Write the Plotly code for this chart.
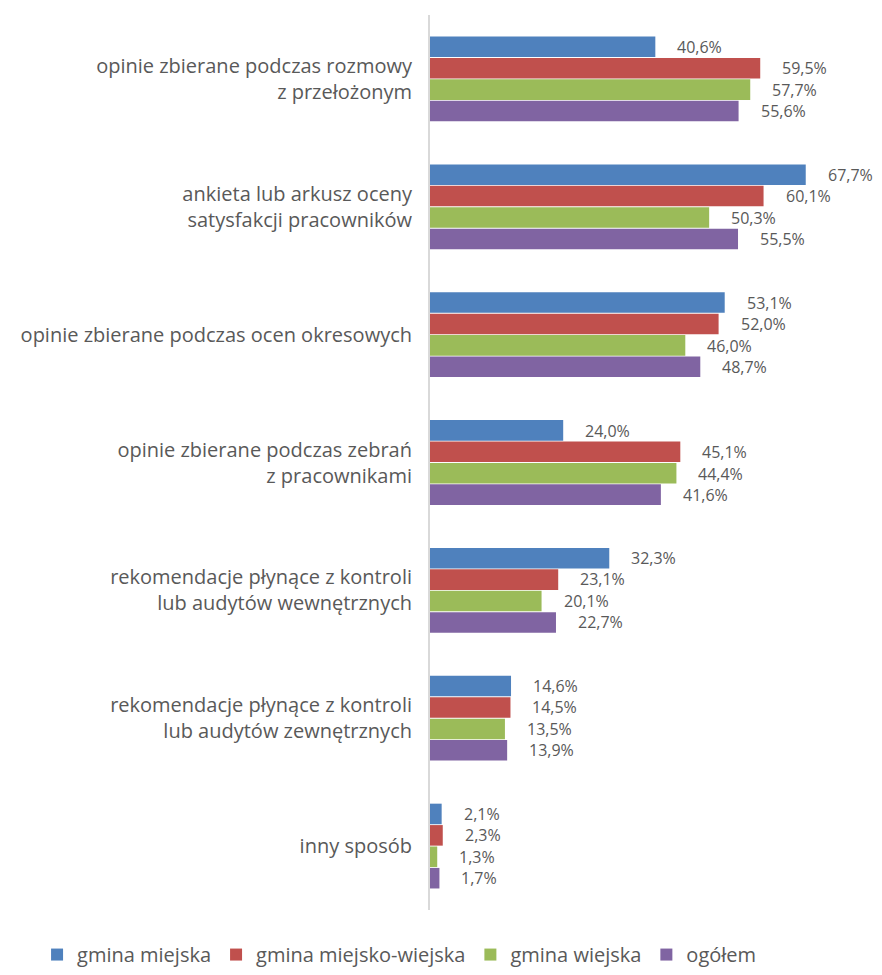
import plotly.graph_objects as go

categories = [
    "opinie zbierane podczas rozmowy<br>z przełożonym",
    "ankieta lub arkusz oceny<br>satysfakcji pracowników",
    "opinie zbierane podczas ocen okresowych",
    "opinie zbierane podczas zebrań<br>z pracownikami",
    "rekomendacje płynące z kontroli<br>lub audytów wewnętrznych",
    "rekomendacje płynące z kontroli<br>lub audytów zewnętrznych",
    "inny sposób",
]
series_names = ["gmina miejska", "gmina miejsko-wiejska", "gmina wiejska", "ogółem"]
gmina_miejska = [40.6, 67.7, 53.1, 24.0, 32.3, 14.6, 2.1]
gmina_miejsko_wiejska = [59.5, 60.1, 52.0, 45.1, 23.1, 14.5, 2.3]
gmina_wiejska = [57.7, 50.3, 46.0, 44.4, 20.1, 13.5, 1.3]
ogolem = [55.6, 55.5, 48.7, 41.6, 22.7, 13.9, 1.7]
series_values = [gmina_miejska, gmina_miejsko_wiejska, gmina_wiejska, ogolem]
colors = ["#4F81BD", "#C0504D", "#9BBB59", "#8064A2"]

FONT = "Open Sans"
TXT = "#595959"

fig = go.Figure()
for name, vals, col in zip(series_names, series_values, colors):
    fig.add_trace(go.Bar(
        y=categories, x=vals, name=name, orientation="h",
        marker=dict(color=col, line=dict(width=0)),
    ))

# data labels
shifts = [32, 11, -11, -32]
for vals, sh in zip(series_values, shifts):
    for cat, v in zip(categories, vals):
        fig.add_annotation(
            x=v, y=cat, text=f"{v:.1f}%".replace(".", ","),
            xanchor="left", yanchor="middle", xshift=21, yshift=sh,
            showarrow=False, borderpad=0,
            font=dict(family=FONT, size=16, color=TXT),
        )

fig.update_layout(
    width=882, height=975,
    margin=dict(l=430, r=8, t=15, b=65, autoexpand=False),
    plot_bgcolor="white", paper_bgcolor="white",
    barmode="group", bargap=0.33, bargroupgap=0.04,
    font=dict(family=FONT, size=16, color=TXT),
    showlegend=True,
    legend=dict(orientation="h", x=-0.885, xanchor="left", y=-0.028, yanchor="top",
                xref="paper", yref="paper", bgcolor="rgba(0,0,0,0)",
                font=dict(family=FONT, size=20, color=TXT),
                itemwidth=30, traceorder="normal"),
    xaxis=dict(range=[0, 80], showgrid=False, zeroline=False, showticklabels=False,
               showline=False),
    yaxis=dict(autorange="reversed", showline=True, linecolor="#D9D9D9", linewidth=2,
               ticks="", ticklabelstandoff=12,
               tickfont=dict(family=FONT, size=20, color=TXT)),
)

fig.write_html("out.html")
